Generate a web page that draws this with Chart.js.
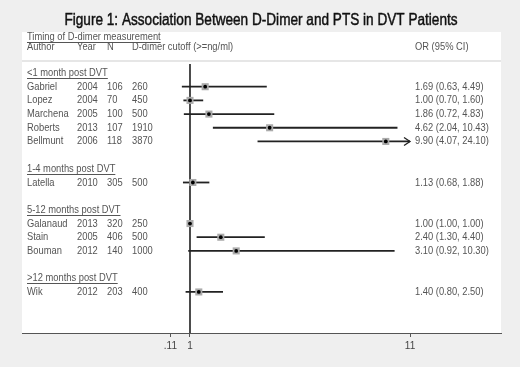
<!DOCTYPE html>
<html>
<head>
<meta charset="utf-8">
<script src="https://cdn.jsdelivr.net/npm/chart.js@4"></script>
<style>
  html, body { margin: 0; padding: 0; background: #efefef; }
  #wrap { width: 520px; height: 367px; }
</style>
</head>
<body>
<div id="wrap"><canvas id="forest" width="520" height="367"></canvas></div>
<script>
const authors = ["Gabriel", "Lopez", "Marchena", "Roberts", "Bellmunt", "Latella", "Galanaud", "Stain", "Bouman", "Wik"];
const years = [2004, 2004, 2005, 2013, 2006, 2010, 2013, 2005, 2012, 2012];
const sizes = [106, 70, 100, 107, 118, 305, 320, 406, 140, 203];
const cutoffs = [260, 450, 500, 1910, 3870, 500, 250, 500, 1000, 400];
const oddsRatios = [1.69, 1.00, 1.86, 4.62, 9.90, 1.13, 1.00, 2.40, 3.10, 1.40];
const lowerCI = [0.63, 0.70, 0.72, 2.04, 4.07, 0.68, 1.00, 1.30, 0.92, 0.80];
const upperCI = [4.49, 1.60, 4.83, 10.43, 24.10, 1.88, 1.00, 4.40, 10.30, 2.50];
const studyRows = [1, 2, 3, 4, 5, 8, 11, 12, 13, 16];
const groupLabels = ["<1 month post DVT", "1-4 months post DVT", "5-12 months post DVT", ">12 months post DVT"];
const groupRows = [0, 7, 10, 15];
const xTicks = [0.11, 1, 11];
const xTickLabels = [".11", "1", "11"];
const clipMax = 11;

const FONT = "Liberation Sans, Arial, sans-serif";
const TEXT = "#555";
const SQUEEZE = 0.85; // the picture's text is a bit narrow

const fmt = v => v.toFixed(2);

const ciSets = authors.map((a, i) => ({
  label: a,
  showLine: true,
  order: 2,
  data: [
    { x: lowerCI[i], y: studyRows[i] },
    { x: Math.min(upperCI[i], clipMax), y: studyRows[i] },
  ],
  borderColor: "#222",
  borderWidth: 1.8,
  pointRadius: 0,
}));

function narrowText(ctx, txt, x, y, stroke) {
  ctx.save();
  ctx.translate(x, y);
  ctx.scale(SQUEEZE, 1);
  ctx.fillText(txt, 0, 0);
  if (stroke) ctx.strokeText(txt, 0, 0);
  const w = ctx.measureText(txt).width * SQUEEZE;
  ctx.restore();
  return w;
}

const forestPlugin = {
  id: "forest",
  beforeDraw(chart) {
    const ctx = chart.ctx;
    const ca = chart.chartArea;
    ctx.save();
    ctx.fillStyle = "#efefef";
    ctx.fillRect(0, 0, chart.width, chart.height);
    ctx.fillStyle = "#ffffff";
    ctx.fillRect(ca.left, 32, ca.right - ca.left, ca.bottom - 32);
    ctx.fillStyle = "#e6e6e6";
    ctx.fillRect(ca.left, 60, ca.right - ca.left, 2);
    ctx.restore();
  },
  afterDatasetsDraw(chart) {
    const ctx = chart.ctx;
    const xs = chart.scales.x;
    const ys = chart.scales.y;
    ctx.save();

    // arrows for clipped intervals
    ctx.strokeStyle = "#222";
    ctx.lineWidth = 1.3;
    upperCI.forEach((u, i) => {
      if (u <= clipMax) return;
      const px = xs.getPixelForValue(clipMax);
      const py = ys.getPixelForValue(studyRows[i]);
      ctx.beginPath();
      ctx.moveTo(px - 6, py - 4);
      ctx.lineTo(px, py);
      ctx.lineTo(px - 6, py + 4);
      ctx.stroke();
    });

    // title, slightly heavier than regular
    ctx.fillStyle = "#111";
    ctx.strokeStyle = "#111";
    ctx.lineWidth = 0.45;
    ctx.font = "16px " + FONT;
    ctx.textAlign = "center";
    ctx.textBaseline = "middle";
    narrowText(ctx, "Figure 1: Association Between D-Dimer and PTS in DVT Patients", 261, 20.5, true);

    ctx.textAlign = "left";
    ctx.font = "11px " + FONT;
    ctx.fillStyle = TEXT;
    ctx.strokeStyle = TEXT;
    ctx.lineWidth = 1;

    const underline = (txt, x, y) => {
      const w = narrowText(ctx, txt, x, y);
      ctx.beginPath();
      ctx.moveTo(x, Math.round(y + 5) + 0.5);
      ctx.lineTo(x + w, Math.round(y + 5) + 0.5);
      ctx.stroke();
    };

    // header
    underline("Timing of D-dimer measurement", 27, 36.5);
    narrowText(ctx, "Author", 27, 46.5);
    narrowText(ctx, "Year", 77, 46.5);
    narrowText(ctx, "N", 107, 46.5);
    narrowText(ctx, "D-dimer cutoff (>=ng/ml)", 132, 46.5);
    narrowText(ctx, "OR (95% CI)", 415, 46.5);

    groupLabels.forEach((g, i) => underline(g, 27, ys.getPixelForValue(groupRows[i])));

    authors.forEach((a, i) => {
      const py = ys.getPixelForValue(studyRows[i]);
      narrowText(ctx, a, 27, py);
      narrowText(ctx, String(years[i]), 77, py);
      narrowText(ctx, String(sizes[i]), 107, py);
      narrowText(ctx, String(cutoffs[i]), 132, py);
      narrowText(ctx, fmt(oddsRatios[i]) + " (" + fmt(lowerCI[i]) + ", " + fmt(upperCI[i]) + ")", 415, py);
    });
    ctx.restore();
  },
};

new Chart(document.getElementById("forest"), {
  type: "scatter",
  data: {
    datasets: [
      {
        label: "null",
        showLine: true,
        order: 3,
        data: [{ x: 1, y: -0.66 }, { x: 1, y: 19 }],
        borderColor: "#333",
        borderWidth: 1,
        pointRadius: 0,
      },
      ...ciSets,
      {
        label: "weight",
        order: 1,
        data: oddsRatios.map((v, i) => ({ x: v, y: studyRows[i] })),
        pointStyle: "rect",
        pointRadius: 5,
        backgroundColor: "#ababab",
        borderWidth: 0,
      },
      {
        label: "OR",
        order: 0,
        data: oddsRatios.map((v, i) => ({ x: v, y: studyRows[i] })),
        pointStyle: "circle",
        pointRadius: 1.9,
        backgroundColor: "#000",
        borderWidth: 0,
      },
    ],
  },
  options: {
    responsive: false,
    animation: false,
    layout: { padding: { left: 22, right: 19, top: 64, bottom: 0 } },
    plugins: { legend: { display: false }, tooltip: { enabled: false } },
    scales: {
      x: {
        type: "linear",
        min: -6.636,
        max: 15.136,
        afterBuildTicks: (s) => { s.ticks = xTicks.map(v => ({ value: v })); },
        afterFit: (s) => { s.height = 34; },
        ticks: {
          autoSkip: false,
          maxRotation: 0,
          padding: 3,
          color: "#444",
          font: { family: FONT, size: 10 },
          callback: (v) => xTickLabels[xTicks.indexOf(v)],
        },
        grid: { drawOnChartArea: false, tickLength: 4, color: "#555" },
        border: { color: "#555", width: 1 },
      },
      y: {
        type: "linear",
        display: false,
        reverse: true,
        min: -0.66,
        max: 19,
      },
    },
  },
  plugins: [forestPlugin],
});
</script>
</body>
</html>
